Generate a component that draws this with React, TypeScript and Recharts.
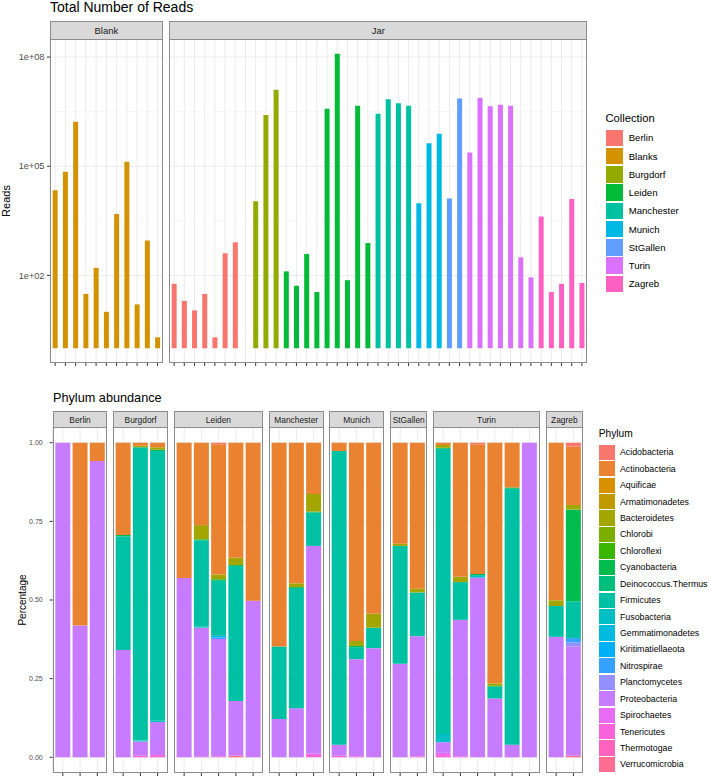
import React from "react";
import { BarChart, Bar, XAxis, YAxis, CartesianGrid, Cell } from "recharts";

const FONT = '"Liberation Sans", Arial, Helvetica, sans-serif';

// ---- top panel: total reads per sample ----
const collections = ["Berlin", "Blanks", "Burgdorf", "Leiden", "Manchester", "Munich", "StGallen", "Turin", "Zagreb"];
const collectionColors = ["#F8766D", "#D39200", "#93AA00", "#00BA38", "#00C19F", "#00B9E3", "#619CFF", "#DB72FB", "#FF61C3"];

const blankReads = [21900, 70800, 1660000, 31, 162, 10, 4900, 132000, 16, 912, 2];
const berlinReads = [59, 20, 11, 31, 2, 407, 813, null];
const burgdorfReads = [11000, 2570000, 12600000];
const leidenReads = [129, 52, 389, 35, 3800000, 123000000, 74, 4570000, 776];
const manchesterReads = [2750000, 6920000, 5370000, 4570000];
const munichReads = [9550, 427000, 776000];
const stGallenReads = [12900, 7240000];
const turinReads = [240000, 7590000, 4470000, 4900000, 4570000, 316, 89];
const zagrebReads = [4170, 35, 59, 12600, 62];

const readTicks = [2, 5, 8];
const readMinor = [0.5, 3.5, 6.5];

// ---- bottom panel: relative phylum abundance ----
const phyla = [
  "Acidobacteria", "Actinobacteria", "Aquificae", "Armatimonadetes", "Bacteroidetes",
  "Chlorobi", "Chloroflexi", "Cyanobacteria", "Deinococcus.Thermus", "Firmicutes",
  "Fusobacteria", "Gemmatimonadetes", "Kiritimatiellaeota", "Nitrospirae", "Planctomycetes",
  "Proteobacteria", "Spirochaetes", "Tenericutes", "Thermotogae", "Verrucomicrobia",
];
const phylumColors = [
  "#F8766D", "#EA8331", "#D89000", "#C09B00", "#A3A500", "#7CAE00", "#39B600", "#00BB4E", "#00BF7D", "#00C1A3",
  "#00BFC4", "#00BAE0", "#00B0F6", "#35A2FF", "#9590FF", "#C77CFF", "#E76BF3", "#FA62DB", "#FF62BC", "#FF6C91",
];

const berlin = [
  { Proteobacteria: 1 },
  { Proteobacteria: 0.419, Actinobacteria: 0.581 },
  { Proteobacteria: 0.942, Actinobacteria: 0.058 },
];
const burgdorf = [
  { Proteobacteria: 0.341, Firmicutes: 0.362, Cyanobacteria: 0.004, Actinobacteria: 0.293 },
  { Tenericutes: 0.005, Proteobacteria: 0.045, Fusobacteria: 0.003, Firmicutes: 0.933, Bacteroidetes: 0.004, Actinobacteria: 0.01 },
  { Tenericutes: 0.007, Proteobacteria: 0.105, Fusobacteria: 0.004, Firmicutes: 0.858, Cyanobacteria: 0.004, Bacteroidetes: 0.008, Actinobacteria: 0.014 },
];
const leiden = [
  { Proteobacteria: 0.57, Actinobacteria: 0.43 },
  { Thermotogae: 0.002, Proteobacteria: 0.41, Fusobacteria: 0.003, Firmicutes: 0.275, Cyanobacteria: 0.003, Bacteroidetes: 0.045, Actinobacteria: 0.262 },
  { Tenericutes: 0.003, Proteobacteria: 0.373, Nitrospirae: 0.005, Kiritimatiellaeota: 0.005, Firmicutes: 0.175, Cyanobacteria: 0.005, Bacteroidetes: 0.015, Actinobacteria: 0.414, Acidobacteria: 0.005 },
  { Verrucomicrobia: 0.005, Proteobacteria: 0.174, Firmicutes: 0.429, Cyanobacteria: 0.003, Bacteroidetes: 0.023, Actinobacteria: 0.366 },
  { Proteobacteria: 0.498, Actinobacteria: 0.502 },
];
const manchester = [
  { Proteobacteria: 0.122, Firmicutes: 0.23, Actinobacteria: 0.648 },
  { Proteobacteria: 0.156, Firmicutes: 0.382, Cyanobacteria: 0.003, Bacteroidetes: 0.012, Actinobacteria: 0.447 },
  { Tenericutes: 0.011, Proteobacteria: 0.661, Firmicutes: 0.106, Cyanobacteria: 0.003, Bacteroidetes: 0.056, Actinobacteria: 0.163 },
];
const munich = [
  { Tenericutes: 0.005, Proteobacteria: 0.035, Firmicutes: 0.934, Actinobacteria: 0.026 },
  { Tenericutes: 0.003, Proteobacteria: 0.309, Firmicutes: 0.038, Cyanobacteria: 0.004, Bacteroidetes: 0.016, Actinobacteria: 0.63 },
  { Proteobacteria: 0.347, Firmicutes: 0.065, Bacteroidetes: 0.044, Actinobacteria: 0.544 },
];
const stGallen = [
  { Proteobacteria: 0.297, Firmicutes: 0.375, Bacteroidetes: 0.007, Actinobacteria: 0.321 },
  { Tenericutes: 0.003, Proteobacteria: 0.382, Firmicutes: 0.139, Bacteroidetes: 0.012, Actinobacteria: 0.464 },
];
const turin = [
  { Tenericutes: 0.007, Spirochaetes: 0.007, Proteobacteria: 0.034, Fusobacteria: 0.026, Firmicutes: 0.907, Cyanobacteria: 0.003, Bacteroidetes: 0.009, Actinobacteria: 0.007 },
  { Tenericutes: 0.003, Proteobacteria: 0.434, Firmicutes: 0.12, Bacteroidetes: 0.017, Actinobacteria: 0.426 },
  { Proteobacteria: 0.571, Fusobacteria: 0.008, Cyanobacteria: 0.004, Actinobacteria: 0.412, Acidobacteria: 0.005 },
  { Proteobacteria: 0.187, Firmicutes: 0.038, Cyanobacteria: 0.002, Bacteroidetes: 0.008, Actinobacteria: 0.765 },
  { Proteobacteria: 0.04, Firmicutes: 0.814, Cyanobacteria: 0.004, Actinobacteria: 0.142 },
  { Proteobacteria: 1 },
];
const zagreb = [
  { Proteobacteria: 0.383, Firmicutes: 0.098, Bacteroidetes: 0.018, Actinobacteria: 0.501 },
  { Verrucomicrobia: 0.005, Proteobacteria: 0.347, Planctomycetes: 0.013, Nitrospirae: 0.014, Firmicutes: 0.117, Cyanobacteria: 0.292, Bacteroidetes: 0.014, Actinobacteria: 0.186, Acidobacteria: 0.012 },
];

const pctTicks = [0, 0.25, 0.5, 0.75, 1];
const pctMinor = [0.125, 0.375, 0.625, 0.875];

// ---- tables for the charts ----
const colorOf = (c: string) => collectionColors[collections.indexOf(c)];

const blankRows = blankReads.map((r, i) => ({ id: `blank${i}`, collection: "Blanks", logReads: Math.log10(r) }));

const jarGroups: [string, (number | null)[]][] = [
  ["Berlin", berlinReads],
  ["Burgdorf", burgdorfReads],
  ["Leiden", leidenReads],
  ["Manchester", manchesterReads],
  ["Munich", munichReads],
  ["StGallen", stGallenReads],
  ["Turin", turinReads],
  ["Zagreb", zagrebReads],
];
const jarRows = jarGroups.flatMap(([c, arr]) =>
  arr.map((r, i) => ({ id: `${c}${i}`, collection: c, logReads: r == null ? null : Math.log10(r) }))
);

const phylumFacets: [string, Record<string, number>[]][] = [
  ["Berlin", berlin],
  ["Burgdorf", burgdorf],
  ["Leiden", leiden],
  ["Manchester", manchester],
  ["Munich", munich],
  ["StGallen", stGallen],
  ["Turin", turin],
  ["Zagreb", zagreb],
];

function toRows(name: string, samples: Record<string, number>[]) {
  return samples.map((s, i) => {
    const row: Record<string, any> = { id: `${name}${i}` };
    phyla.forEach((p, k) => {
      row[`p${k}`] = s[p] ?? 0;
    });
    return row;
  });
}

// ---- small layout helpers ----
const BORDER = "1px solid #8C8C8C";
const NoLabel = () => null;

function Strip({ x, y, w, h, label, fontSize }: any) {
  return (
    <div
      style={{
        position: "absolute", left: x, top: y, width: w, height: h + 1, boxSizing: "border-box",
        background: "#D9D9D9", border: BORDER, display: "flex", alignItems: "center",
        justifyContent: "center", fontSize, color: "#1A1A1A", whiteSpace: "nowrap",
      }}
    >
      {label}
    </div>
  );
}

function Frame({ x, y, w, h }: any) {
  return (
    <div
      style={{
        position: "absolute", left: x, top: y, width: w, height: h,
        boxSizing: "border-box", border: BORDER, pointerEvents: "none",
      }}
    />
  );
}

function Label({ x, baseline, size, children, color = "#000" }: any) {
  return (
    <div
      style={{
        position: "absolute", left: x, top: baseline - 0.8465 * size, fontSize: size,
        lineHeight: `${size}px`, color, whiteSpace: "nowrap",
      }}
    >
      {children}
    </div>
  );
}

function ReadsPanel({ x, w, rows, label, showY }: any) {
  const yw = 50;
  const top = 39;
  const plotH = 324;
  return (
    <>
      <Strip x={x} y={21} w={w} h={top - 21} label={label} fontSize={9.5} />
      <div style={{ position: "absolute", left: showY ? x - yw : x, top }}>
        <BarChart
          width={showY ? w + yw : w}
          height={plotH + 6}
          data={rows}
          margin={{ top: 0, right: 0, bottom: 0, left: 0 }}
          barCategoryGap="26%"
        >
          <CartesianGrid horizontalValues={readTicks} stroke="#EBEBEB" />
          <CartesianGrid horizontalValues={readMinor} vertical={false} stroke="#F3F3F3" strokeWidth={0.6} />
          <XAxis dataKey="id" interval={0} tick={NoLabel} tickSize={3} axisLine={false} tickLine={{ stroke: "#333" }} height={6} />
          <YAxis
            type="number"
            domain={[-0.405, 8.495]}
            allowDataOverflow
            ticks={readTicks}
            hide={!showY}
            width={yw}
            axisLine={false}
            tickSize={3}
            tickMargin={2.5}
            tickLine={{ stroke: "#333" }}
            tick={{ fontSize: 9.2, fill: "#4D4D4D", fontFamily: FONT }}
            tickFormatter={(v: number) => `1e+0${v}`}
          />
          <Bar dataKey="logReads" isAnimationActive={false}>
            {rows.map((r: any) => (
              <Cell key={r.id} fill={colorOf(r.collection)} />
            ))}
          </Bar>
        </BarChart>
      </div>
      <Frame x={x} y={top} w={w} h={plotH} />
    </>
  );
}

function PhylumPanel({ x, w, rows, label, showY }: any) {
  const yw = 52.7;
  const top = 427;
  const plotH = 346;
  const order = phyla.map((_, k) => k).reverse();
  return (
    <>
      <Strip x={x} y={411} w={w} h={top - 411} label={label} fontSize={8.4} />
      <div style={{ position: "absolute", left: showY ? x - yw : x, top }}>
        <BarChart
          width={showY ? w + yw : w}
          height={plotH + 6}
          data={rows}
          margin={{ top: 0, right: 0, bottom: 0, left: 0 }}
          barCategoryGap="6.5%"
        >
          <CartesianGrid horizontalValues={pctTicks} stroke="#EBEBEB" />
          <CartesianGrid horizontalValues={pctMinor} vertical={false} stroke="#F3F3F3" strokeWidth={0.6} />
          <XAxis
            dataKey="id"
            interval={0}
            tick={NoLabel}
            tickSize={3}
            axisLine={false}
            tickLine={{ stroke: "#333" }}
            height={6}
            padding={{ left: 1.5, right: 1.5 }}
          />
          <YAxis
            type="number"
            domain={[-0.05, 1.05]}
            allowDataOverflow
            ticks={pctTicks}
            hide={!showY}
            width={yw}
            axisLine={false}
            tickSize={3}
            tickMargin={7}
            tickLine={{ stroke: "#333" }}
            tick={{ fontSize: 7, fill: "#4D4D4D", fontFamily: FONT }}
            tickFormatter={(v: number) => v.toFixed(2)}
          />
          {order.map((k) => (
            <Bar key={phyla[k]} dataKey={`p${k}`} stackId="a" fill={phylumColors[k]} isAnimationActive={false} />
          ))}
        </BarChart>
      </div>
      <Frame x={x} y={top} w={w} h={plotH} />
    </>
  );
}

function Legend({ x, titleBaseline, title, titleSize, rowTop, pitch, keyW, keyH, labelX, labelSize, items, colors }: any) {
  return (
    <>
      <Label x={x} baseline={titleBaseline} size={titleSize}>{title}</Label>
      {items.map((name: string, i: number) => (
        <React.Fragment key={name}>
          <div
            style={{
              position: "absolute", left: x + 0.6, top: rowTop + i * pitch, width: keyW, height: keyH,
              background: colors[i],
            }}
          />
          <div
            style={{
              position: "absolute", left: labelX, top: rowTop + i * pitch, height: keyH,
              display: "flex", alignItems: "center", fontSize: labelSize, color: "#000", whiteSpace: "nowrap",
            }}
          >
            {name}
          </div>
        </React.Fragment>
      ))}
    </>
  );
}

export default function App() {
  // bottom facet placement: equal slot width per sample, small gaps between facets
  const slot = 17.25;
  const gap = 5.8;
  let cursor = 52.7;
  const facetBoxes = phylumFacets.map(([name, samples]) => {
    const w = samples.length * slot + 3;
    const box = { name, x: cursor, w, rows: toRows(name, samples) };
    cursor += w + gap;
    return box;
  });

  return (
    <div
      style={{
        position: "absolute", left: 0, top: 0, width: 709, height: 779,
        background: "#fff", fontFamily: FONT, overflow: "hidden",
      }}
    >
      <Label x={50} baseline={11.7} size={14}>Total Number of Reads</Label>
      <div
        style={{
          position: "absolute", left: 6, top: 201, fontSize: 11, whiteSpace: "nowrap",
          transform: "translate(-50%, -50%) rotate(-90deg)",
        }}
      >
        Reads
      </div>
      <ReadsPanel x={50} w={112.7} rows={blankRows} label="Blank" showY />
      <ReadsPanel x={169.3} w={418} rows={jarRows} label="Jar" showY={false} />
      <Legend
        x={605.5}
        titleBaseline={122.7}
        title="Collection"
        titleSize={11.2}
        rowTop={129.5}
        pitch={18.25}
        keyW={16.6}
        keyH={16.6}
        labelX={628.7}
        labelSize={9.6}
        items={collections}
        colors={collectionColors}
      />

      <Label x={53} baseline={402.7} size={12.7}>Phylum abundance</Label>
      <div
        style={{
          position: "absolute", left: 21.7, top: 599.7, fontSize: 10, whiteSpace: "nowrap",
          transform: "translate(-50%, -50%) rotate(-90deg)",
        }}
      >
        Percentage
      </div>
      {facetBoxes.map((f, i) => (
        <PhylumPanel key={f.name} x={f.x} w={f.w} rows={f.rows} label={f.name} showY={i === 0} />
      ))}
      <Legend
        x={598.7}
        titleBaseline={437.3}
        title="Phylum"
        titleSize={10.2}
        rowTop={444.8}
        pitch={16.42}
        keyW={15.3}
        keyH={15.2}
        labelX={620}
        labelSize={8.8}
        items={phyla}
        colors={phylumColors}
      />
    </div>
  );
}
